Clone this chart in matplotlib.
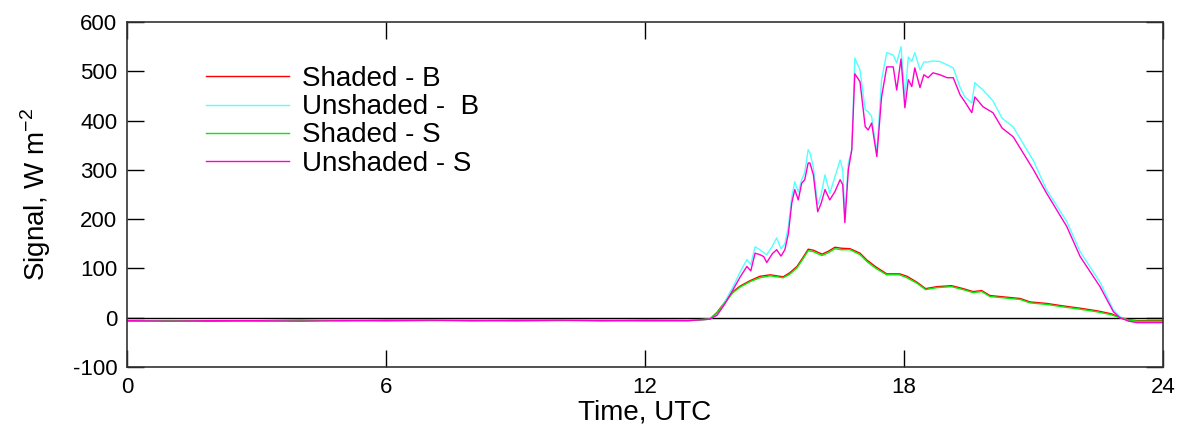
import matplotlib
matplotlib.use("Agg")
import matplotlib.pyplot as plt
import numpy as np

plt.rcParams['font.family'] = ['Liberation Sans', 'DejaVu Sans']
plt.rcParams['axes.unicode_minus'] = False

# night-time offsets, hourly
t_night = [0, 1, 2, 3, 4, 5, 6, 7, 8, 9, 10, 11, 12, 13]
night_shaded_b = [-6, -6, -7, -6, -5, -6, -5, -5, -6, -5, -5, -6, -5, -5]
night_unshaded_b = [-5, -6, -5, -6, -6, -5, -6, -5, -5, -6, -5, -5, -6, -5]
night_shaded_s = [-7, -6, -6, -7, -6, -5, -6, -6, -5, -6, -6, -5, -6, -6]
night_unshaded_s = [-6, -7, -6, -6, -7, -6, -6, -5, -6, -6, -5, -6, -6, -6]

# daytime, unshaded sensors
t_uns = [13.5, 13.67, 13.85, 14.04, 14.2, 14.36, 14.45, 14.55, 14.66, 14.75,
         14.82, 14.95, 15.05, 15.15, 15.24, 15.32, 15.4, 15.47, 15.55, 15.63,
         15.7, 15.78, 15.82, 15.9, 16.0, 16.08, 16.17, 16.28, 16.4, 16.52,
         16.58, 16.63, 16.71, 16.79, 16.86, 16.98, 17.1, 17.17, 17.25, 17.37,
         17.48, 17.6, 17.75, 17.83, 17.93, 18.02, 18.1, 18.18, 18.25, 18.37,
         18.46, 18.56, 18.67, 18.83, 19.0, 19.14, 19.3, 19.41, 19.57, 19.64,
         19.83, 20.06, 20.27, 20.53, 21.0, 21.3, 21.77, 22.08, 22.54, 22.85,
         23.0, 23.2, 23.4, 23.7, 24.0]
day_unshaded_s = [-3, 5, 28, 57, 82, 104, 95, 131, 128, 124,
                  112, 130, 138, 125, 138, 170, 233, 260, 239, 273,
                  280, 314, 314, 290, 215, 232, 260, 239, 256, 280,
                  270, 193, 300, 341, 495, 479, 388, 381, 395, 327,
                  448, 509, 509, 462, 525, 426, 483, 469, 507, 467,
                  493, 487, 497, 493, 487, 487, 452, 438, 416, 448,
                  428, 416, 385, 367, 300, 253, 185, 124, 63, 12,
                  0, -7, -10, -10, -10]
day_unshaded_b = [-3, 6, 33, 63, 92, 118, 108, 144, 138, 132,
                  128, 145, 162, 140, 150, 185, 245, 276, 255, 280,
                  295, 341, 335, 305, 229, 250, 290, 252, 286, 320,
                  300, 205, 314, 341, 527, 503, 422, 418, 408, 335,
                  483, 538, 533, 517, 550, 448, 529, 520, 538, 503,
                  519, 519, 521, 520, 513, 507, 467, 448, 436, 477,
                  462, 440, 405, 387, 318, 260, 195, 134, 72, 16,
                  2, -6, -9, -9, -9]

# daytime, shaded sensors
t_sh = [13.5, 13.67, 13.85, 14.04, 14.2, 14.43, 14.66, 14.9, 15.2, 15.35,
        15.52, 15.65, 15.78, 15.9, 16.1, 16.25, 16.4, 16.55, 16.75, 16.98,
        17.14, 17.35, 17.6, 17.9, 18.07, 18.3, 18.5, 18.76, 19.1, 19.37,
        19.6, 19.8, 19.99, 20.22, 20.69, 20.92, 21.3, 21.68, 22.1, 22.47,
        22.8, 23.0, 23.2, 23.4, 23.7, 24.0]
day_shaded_s = [-3, 10, 30, 51, 62, 73, 81, 85, 81, 88,
                101, 118, 136, 134, 126, 132, 140, 138, 138, 128,
                114, 100, 87, 87, 81, 70, 57, 61, 63, 57,
                51, 53, 43, 41, 37, 30, 27, 22, 17, 12,
                6, 0, -5, -7, -7, -7]
day_shaded_b = [-3, 11, 32, 53, 64, 75, 84, 87, 83, 91,
                104, 121, 139, 137, 129, 135, 143, 141, 140, 131,
                117, 103, 89, 89, 84, 72, 59, 63, 65, 59,
                53, 55, 45, 43, 39, 32, 29, 24, 19, 14,
                8, 1, -4, -6, -6, -6]

series = [
    ("Shaded - B", t_sh, night_shaded_b, day_shaded_b, "#ff0000"),
    ("Unshaded -  B", t_uns, night_unshaded_b, day_unshaded_b, "#55ffff"),
    ("Shaded - S", t_sh, night_shaded_s, day_shaded_s, "#00ee00"),
    ("Unshaded - S", t_uns, night_unshaded_s, day_unshaded_s, "#ff00cc"),
]

fig = plt.figure(figsize=(11.81, 4.32), dpi=100)
ax = fig.add_axes([0.1075, 0.1505, 0.8773, 0.7985])

for label, t_day, night, day, color in series:
    ax.plot(t_night + t_day, night + day, color=color, linewidth=1.0, label=label)

ax.axhline(0, color="black", linewidth=1.0, zorder=0)

ax.set_xlim(0, 24)
ax.set_ylim(-100, 600)
ax.set_xticks([0, 6, 12, 18, 24])
ax.set_yticks(np.arange(-100, 601, 100))
ax.tick_params(direction="in", length=12, width=1, labelsize=16, pad=7,
               top=True, right=True)
for spine in ax.spines.values():
    spine.set_linewidth(1.2)
    spine.set_color("#333333")

ax.set_xlabel("Time, UTC", fontsize=20, labelpad=1)
ax.set_ylabel("Signal, W m$^{\\mathregular{-2}}$", fontsize=20, labelpad=14)

ax.legend(loc="upper left", bbox_to_anchor=(0.052, 0.945), frameon=False,
          fontsize=20, handlelength=3.0, handletextpad=0.47, labelspacing=0.08)

fig.savefig("out.png", dpi=100)
